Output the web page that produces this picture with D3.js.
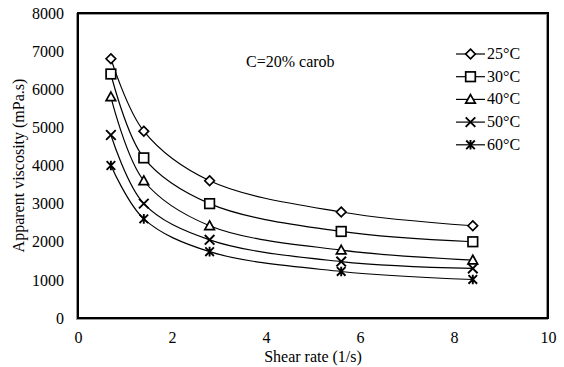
<!DOCTYPE html>
<html>
<head>
<meta charset="utf-8">
<script src="https://cdn.jsdelivr.net/npm/d3@7"></script>
<style>
  body { margin: 0; background: #fff; }
  svg text { font-family: "Liberation Serif", "Times New Roman", "DejaVu Serif", serif !important; fill: #000; }
</style>
</head>
<body>
<div id="chart"></div>
<script>
// shear rate values (1/s)
var shearRates = [0.7, 1.4, 2.8, 5.6, 8.4];
// apparent viscosity (mPa.s) for each temperature
var v25 = [6800, 4900, 3600, 2780, 2420];
var v30 = [6400, 4200, 3000, 2270, 2000];
var v40 = [5800, 3600, 2420, 1780, 1520];
var v50 = [4800, 3000, 2050, 1480, 1300];
var v60 = [4000, 2600, 1740, 1220, 1010];
var seriesNames = ["25\u00B0C", "30\u00B0C", "40\u00B0C", "50\u00B0C", "60\u00B0C"];
var markerTypes = ["diamond", "square", "triangle", "cross", "asterisk"];
var xTicks = [0, 2, 4, 6, 8, 10];
var yTicks = [0, 1000, 2000, 3000, 4000, 5000, 6000, 7000, 8000];

var width = 564, height = 367;
var margin = {left: 78, top: 13, right: 16, bottom: 49};
var fontSize = "16px";

var svg = d3.select("#chart").append("svg")
    .attr("width", width)
    .attr("height", height);

var x = d3.scaleLinear().domain([0, 10]).range([margin.left, width - margin.right]);
var y = d3.scaleLinear().domain([0, 8000]).range([height - margin.bottom, margin.top]);

// plot border with a light shadow
svg.append("rect")
    .attr("x", x(0) - 1).attr("y", y(8000) + 1)
    .attr("width", x(10) - x(0)).attr("height", y(0) - y(8000))
    .attr("fill", "none").attr("stroke", "#999").attr("stroke-width", 2);
svg.append("rect")
    .attr("x", x(0)).attr("y", y(8000))
    .attr("width", x(10) - x(0)).attr("height", y(0) - y(8000))
    .attr("fill", "none").attr("stroke", "#000").attr("stroke-width", 2);

// axes (labels only)
var xAxis = svg.append("g")
    .attr("transform", "translate(0," + (y(0) + 8) + ")")
    .call(d3.axisBottom(x).tickValues(xTicks).tickSize(0).tickPadding(6));
var yAxis = svg.append("g")
    .attr("transform", "translate(" + (x(0) - 8) + ",0)")
    .call(d3.axisLeft(y).tickValues(yTicks).tickSize(0).tickPadding(6).tickFormat(d3.format("d")));
[xAxis, yAxis].forEach(function(a) {
  a.attr("font-family", null).attr("font-size", null);
  a.select(".domain").remove();
  a.selectAll("text").style("font-size", fontSize);
});

svg.append("text")
    .attr("x", (x(0) + x(10)) / 2).attr("y", 362)
    .attr("text-anchor", "middle").style("font-size", fontSize)
    .text("Shear rate (1/s)");
svg.append("text")
    .attr("transform", "translate(24," + ((y(0) + y(8000)) / 2) + ") rotate(-90)")
    .attr("text-anchor", "middle").style("font-size", fontSize)
    .text("Apparent viscosity (mPa.s)");

svg.append("text")
    .attr("x", 246).attr("y", 67)
    .style("font-size", fontSize)
    .text("C=20% carob");

var allSeries = [v25, v30, v40, v50, v60];

function drawMarker(g, type, cx, cy) {
  var s = 4.8;
  if (type === "diamond") {
    g.append("path").attr("d", "M" + cx + "," + (cy - s) + "L" + (cx + s) + "," + cy + "L" + cx + "," + (cy + s) + "L" + (cx - s) + "," + cy + "Z")
      .attr("fill", "#fff").attr("stroke", "#000").attr("stroke-width", 1.7);
  } else if (type === "square") {
    g.append("rect").attr("x", cx - s).attr("y", cy - s).attr("width", 2 * s).attr("height", 2 * s)
      .attr("fill", "#fff").attr("stroke", "#000").attr("stroke-width", 1.7);
  } else if (type === "triangle") {
    g.append("path").attr("d", "M" + cx + "," + (cy - s) + "L" + (cx + s) + "," + (cy + s - 1) + "L" + (cx - s) + "," + (cy + s - 1) + "Z")
      .attr("fill", "#fff").attr("stroke", "#000").attr("stroke-width", 1.7);
  } else if (type === "cross") {
    g.append("path").attr("d", "M" + (cx - s) + "," + (cy - s) + "L" + (cx + s) + "," + (cy + s) + "M" + (cx + s) + "," + (cy - s) + "L" + (cx - s) + "," + (cy + s))
      .attr("stroke", "#000").attr("stroke-width", 1.9);
  } else {
    g.append("path").attr("d", "M" + (cx - s + 0.5) + "," + (cy - s + 0.5) + "L" + (cx + s - 0.5) + "," + (cy + s - 0.5) + "M" + (cx + s - 0.5) + "," + (cy - s + 0.5) + "L" + (cx - s + 0.5) + "," + (cy + s - 0.5) + "M" + cx + "," + (cy - s) + "L" + cx + "," + (cy + s))
      .attr("stroke", "#000").attr("stroke-width", 1.9);
  }
}

var line = d3.line()
    .x(function(d) { return x(d[0]); })
    .y(function(d) { return y(d[1]); })
    .curve(d3.curveCatmullRom.alpha(0.5));

allSeries.forEach(function(vals, i) {
  var pts = shearRates.map(function(r, j) { return [r, vals[j]]; });
  svg.append("path").datum(pts)
    .attr("d", line)
    .attr("fill", "none").attr("stroke", "#000").attr("stroke-width", 1.2);
});
allSeries.forEach(function(vals, i) {
  var g = svg.append("g");
  shearRates.forEach(function(r, j) { drawMarker(g, markerTypes[i], x(r), y(vals[j])); });
});

// legend
var legend = svg.append("g");
seriesNames.forEach(function(name, i) {
  var ly = 54 + i * 22.7;
  legend.append("line").attr("x1", 456).attr("x2", 485).attr("y1", ly).attr("y2", ly)
    .attr("stroke", "#000").attr("stroke-width", 1.2);
  drawMarker(legend, markerTypes[i], 470.5, ly);
  legend.append("text").attr("x", 487).attr("y", ly + 5)
    .style("font-size", fontSize).text(name);
});
</script>
</body>
</html>
